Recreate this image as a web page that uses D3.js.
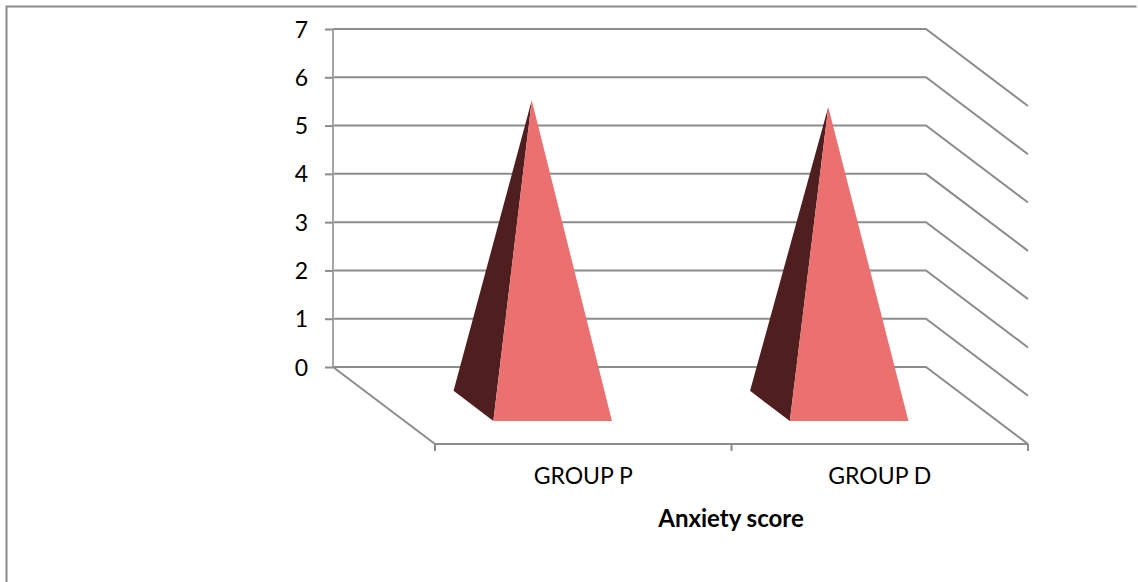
<!DOCTYPE html>
<html><head><meta charset="utf-8">
<script src="https://cdn.jsdelivr.net/npm/d3@7"></script>
<style>
html,body{margin:0;padding:0;background:#fff}
svg{display:block}
text{font-family:Lato,"Open Sans",sans-serif;fill:#000}
</style></head><body><svg id="c" width="1138" height="582"></svg>
<script>
const categories = ["GROUP P","GROUP D"];
const values = [6.33,6.19];
const yTicks = [0,1,2,3,4,5,6,7];
const axisTitle = "Anxiety score";

const svg = d3.select("#c");
const W=1138,H=582;
const gridCol="#8c8c8c", wallCol="#a6a6a6";
const y = d3.scaleLinear().domain([0,7]).range([367,29]);
const x = d3.scaleBand().domain(categories).range([333,926]).paddingInner(0).paddingOuter(0);
// depth: 0 at back wall, 1 at the front of the floor
const dx = d3.scaleLinear().domain([0,1]).range([0,102]);
const dy = d3.scaleLinear().domain([0,1]).range([0,77]);
const proj=(px,v,d)=>[px+dx(d), y(v)+dy(d)];

// outer frame
svg.append("path").attr("d",`M6.5,${H} V6.5 H${W-1.5}`).attr("fill","none").attr("stroke","#8a8a8a").attr("stroke-width",2);

// gridlines: back wall + side wall
const lineGen=d3.line();
const g=svg.append("g").attr("fill","none").attr("stroke",gridCol);
yTicks.forEach(t=>{
  g.append("path").attr("stroke-width",2).attr("d",lineGen([proj(333,t,0),proj(926,t,0),proj(926,t,1)]));
});
// left wall + floor left edge
g.append("path").attr("stroke",wallCol).attr("stroke-width",2).attr("d",lineGen([proj(333,7,0),proj(333,0,0)]));
g.append("path").attr("stroke-width",2).attr("d",lineGen([proj(333,0,0),proj(333,0,1)]));

// y axis
const ya=svg.append("g").attr("transform","translate(333,0)")
  .call(d3.axisLeft(y).tickValues(yTicks).tickFormat(d3.format("d")).tickSize(8).tickPadding(17));
ya.select(".domain").remove();
ya.selectAll("line").attr("stroke",gridCol).attr("stroke-width",2);
ya.selectAll("text").attr("font-size",23).attr("dy","0.35em");

// x axis at floor front
const xFront=d3.scaleBand().domain(categories).range([435,1028]);
const xa=svg.append("g").attr("transform","translate(0,444)")
  .call(d3.axisBottom(xFront).tickSize(0).tickPadding(24));
xa.select(".domain").remove();
xa.selectAll("text").attr("font-size",23).attr("dy","0.71em");
const bounds=[...categories.map(c=>xFront(c)),xFront.range()[1]];
svg.append("path").attr("fill","none").attr("stroke",gridCol).attr("stroke-width",2.2)
  .attr("d",lineGen([[bounds[0],444],[bounds[bounds.length-1],444]]));
svg.selectAll(".bt").data(bounds).join("line").attr("class","bt")
  .attr("x1",d=>d).attr("x2",d=>d).attr("y1",444).attr("y2",451)
  .attr("stroke",gridCol).attr("stroke-width",2);

svg.append("text").attr("x",731).attr("y",527).attr("text-anchor","middle")
  .attr("font-size",24).attr("font-weight",700).text(axisTitle);

// pyramids
const halfW=0.2*x.bandwidth(), dMin=0.31, dMax=0.70, dMid=(dMin+dMax)/2;
categories.forEach((c,i)=>{
  const cx=x(c)+x.bandwidth()/2;
  const apex=proj(cx-1,values[i],dMid);
  const bl=proj(cx-halfW,0,dMin), fl=proj(cx-halfW,0,dMax), fr=proj(cx+halfW,0,dMax);
  svg.append("polygon").attr("points",[apex,bl,fl].map(p=>p.join(",")).join(" ")).attr("fill","#4e1f1e");
  svg.append("polygon").attr("points",[apex,fl,fr].map(p=>p.join(",")).join(" ")).attr("fill","#eb7070");
});
</script></body></html>
